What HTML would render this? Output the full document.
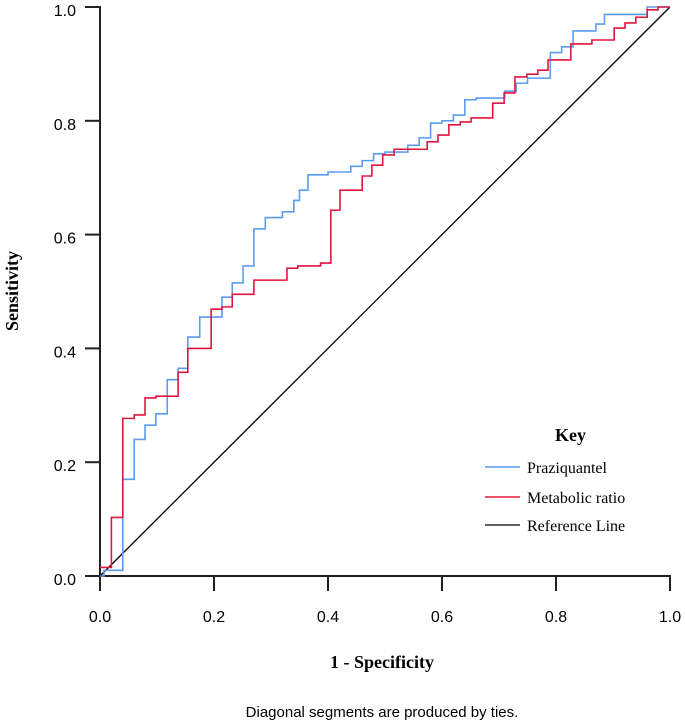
<!DOCTYPE html>
<html><head><meta charset="utf-8"><style>
body{margin:0;background:#fff}
svg text{font-family:"Liberation Serif",serif;fill:#000}
svg text.tk{font-family:"Liberation Sans",sans-serif}
</style></head><body>
<svg width="685" height="723" id="c">
<text x="382" y="717" text-anchor="middle" style="font-family:'Liberation Sans',sans-serif;font-size:15px">Diagonal segments are produced by ties.</text>
<text x="382" y="668" text-anchor="middle" font-weight="bold" font-size="18">1 - Specificity</text>
<text transform="translate(18,291) rotate(-90)" text-anchor="middle" font-weight="bold" font-size="18">Sensitivity</text>
<g>
<text x="555" y="441" font-weight="bold" font-size="18">Key</text>
<line x1="485" y1="467" x2="520" y2="467" stroke="#5b9bf0" stroke-width="1.5"/>
<text x="527" y="473" font-size="16">Praziquantel</text>
<line x1="485" y1="497" x2="520" y2="497" stroke="#e0163f" stroke-width="1.5"/>
<text x="527" y="503" font-size="16">Metabolic ratio</text>
<line x1="485" y1="525" x2="520" y2="525" stroke="#000" stroke-width="1.2"/>
<text x="527" y="531" font-size="16">Reference Line</text>
</g>
</svg>
<script>
const ticks=[0,0.2,0.4,0.6,0.8,1.0];
const tickLabels=["0.0","0.2","0.4","0.6","0.8","1.0"];
const pzFpr=[0,0.007,0.04,0.04,0.06,0.079,0.098,0.118,0.137,0.154,0.175,0.214,0.232,0.251,0.27,0.29,0.32,0.34,0.35,0.365,0.40,0.44,0.46,0.48,0.50,0.54,0.56,0.58,0.60,0.62,0.64,0.66,0.71,0.73,0.75,0.79,0.81,0.83,0.87,0.885,0.96,1.0];
const pzTpr=[0,0.01,0.03,0.17,0.24,0.265,0.285,0.345,0.365,0.42,0.455,0.49,0.515,0.545,0.61,0.63,0.64,0.66,0.678,0.705,0.71,0.72,0.73,0.742,0.745,0.757,0.77,0.796,0.80,0.81,0.837,0.84,0.852,0.866,0.875,0.92,0.93,0.958,0.97,0.987,1.0,1.0];
const mrFpr=[0,0.02,0.04,0.06,0.079,0.098,0.137,0.154,0.195,0.214,0.232,0.27,0.328,0.347,0.387,0.405,0.421,0.46,0.477,0.496,0.516,0.574,0.593,0.612,0.632,0.651,0.689,0.709,0.728,0.749,0.768,0.786,0.826,0.863,0.902,0.921,0.94,0.96,0.979,1.0];
const mrTpr=[0.015,0.103,0.277,0.283,0.313,0.316,0.358,0.40,0.469,0.473,0.495,0.52,0.541,0.545,0.55,0.643,0.678,0.703,0.722,0.74,0.75,0.763,0.775,0.793,0.798,0.805,0.831,0.849,0.877,0.882,0.889,0.907,0.935,0.942,0.963,0.972,0.982,0.995,1.0,1.0];
const NS="http://www.w3.org/2000/svg",svg=document.getElementById('c');
const X=v=>100+v*570, Y=v=>576-v*569;
function mk(t,a,p){const e=document.createElementNS(NS,t);for(const k in a)e.setAttribute(k,a[k]);(p||svg).appendChild(e);return e;}
const axes=mk('g',{});


mk('line',{x1:X(0)-1,y1:Y(0),x2:X(1)+1,y2:Y(0),stroke:'#222','stroke-width':2},axes);
mk('line',{x1:X(0),y1:Y(0)+1,x2:X(0),y2:Y(1)-1,stroke:'#222','stroke-width':2},axes);
ticks.forEach((t,i)=>{
 mk('line',{x1:X(t),y1:Y(0),x2:X(t),y2:Y(0)+15,stroke:'#222','stroke-width':2},axes);
 mk('line',{x1:X(0)-15,y1:Y(t),x2:X(0),y2:Y(t),stroke:'#222','stroke-width':2},axes);
 const tx=mk('text',{x:X(t),y:Y(0)+46,'text-anchor':'middle','font-size':16,'class':'tk'},axes);tx.textContent=tickLabels[i];
 
 
 const ty=mk('text',{x:X(0)-24,y:Y(t)+9,'text-anchor':'end','font-size':16,'class':'tk'},axes);ty.textContent=tickLabels[i];
 
 
});
const ref=mk('line',{x1:X(0),y1:Y(0),x2:X(1),y2:Y(1),stroke:'#000','stroke-width':1.3});


function step(fx,ty,col,name){
 let d='M'+X(fx[0])+' '+Y(ty[0]);
 for(let i=1;i<fx.length;i++){d+=' H'+X(fx[i])+' V'+Y(ty[i]);}
 const p=mk('path',{d:d,fill:'none',stroke:col,'stroke-width':1.6});
 
 
}
step(pzFpr,pzTpr,'#5b9bf0','praziquantel-curve');
step(mrFpr,mrTpr,'#e0163f','metabolic-ratio-curve');
</script>
</body></html>
